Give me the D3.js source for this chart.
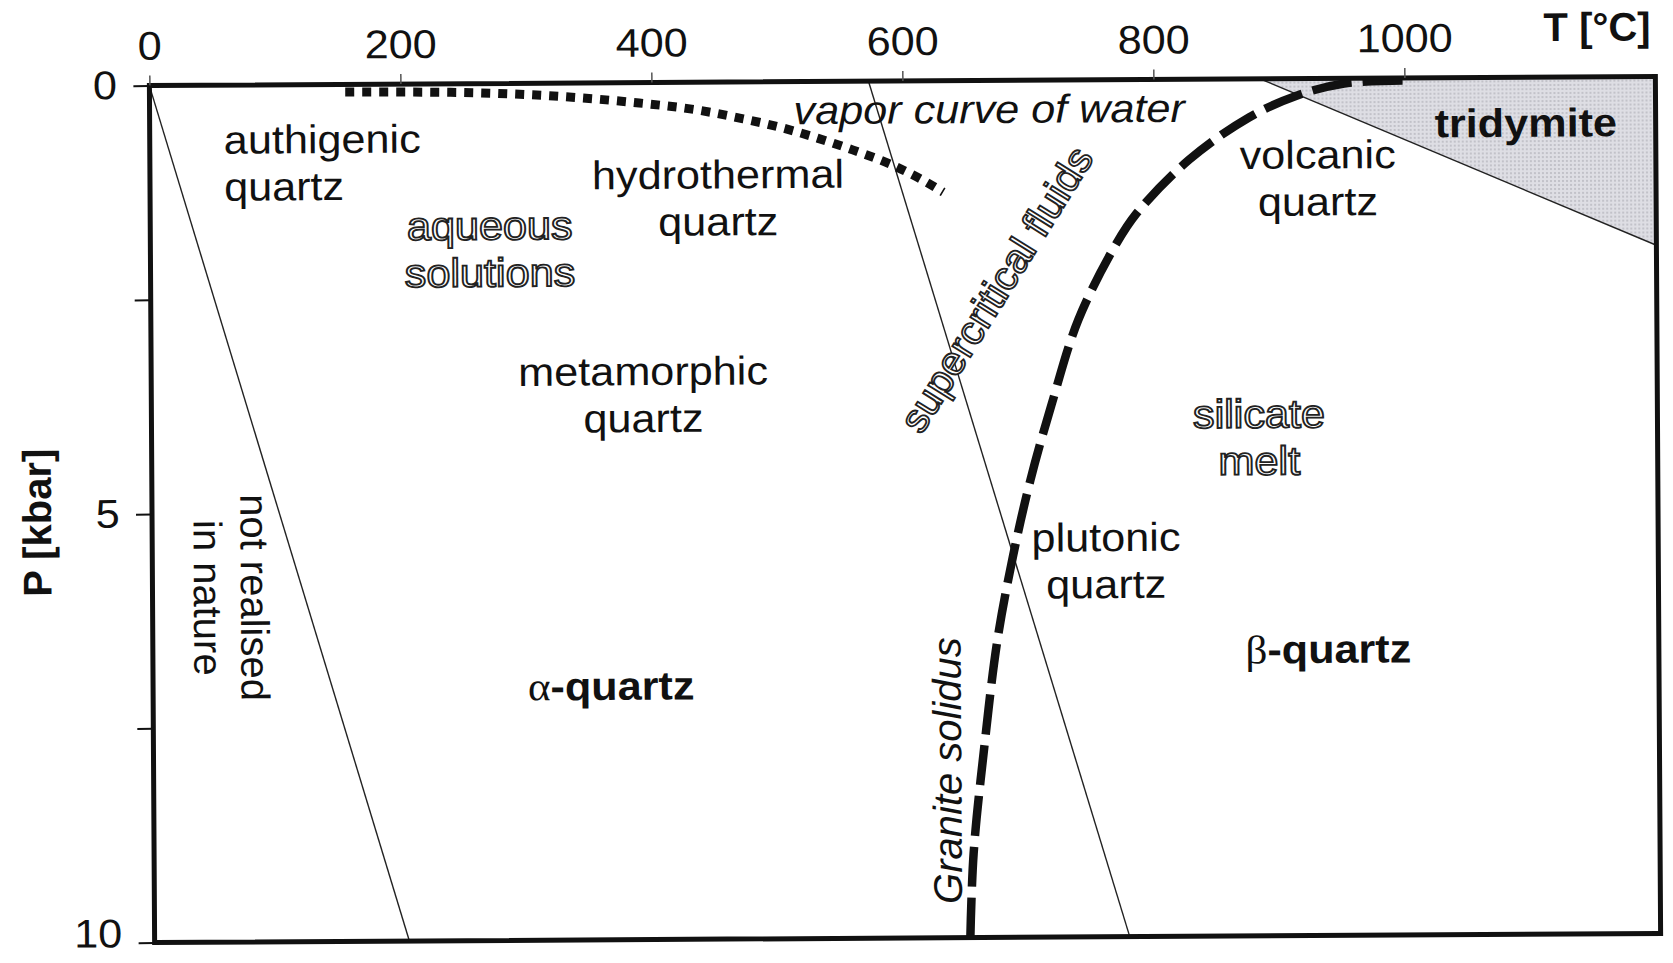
<!DOCTYPE html>
<html><head><meta charset="utf-8">
<script src="https://cdn.jsdelivr.net/npm/d3@7"></script>
<style>
html,body{margin:0;padding:0;background:#fff;}
svg{display:block;}
</style></head><body>
<svg id="chart" width="1673" height="963"></svg>
<script>
// ---------- data (T in °C, P in kbar) ----------
const xDomain = [0, 1200];
const yDomain = [0, 10];
const xTicks = [0, 200, 400, 600, 800, 1000];
const yTicks = [0, 2.5, 5, 7.5, 10];
const yTickLabels = ["0", "", "5", "", "10"];

const notRealisedLine = [[0, 0], [203, 10]];
const alphaBetaLine = [[573, 0], [777, 10]];
const tridymiteLine = [[885, 0], [1200, 1.97]];
const tridymiteArea = [[885, 0], [1200, 0], [1200, 1.97]];
const vaporCurve = [[156, 0.09], [240, 0.10], [331, 0.16], [385, 0.23], [439, 0.33], [473, 0.43],
  [502, 0.53], [532, 0.66], [560, 0.80], [590, 0.97], [616, 1.16], [632, 1.30]];
const graniteSolidus = [[650, 10], [653, 9.02], [662, 7.78], [673, 6.53], [686, 5.54], [700, 4.67],
  [717, 3.8], [739, 2.8], [769, 1.93], [786, 1.56], [828, 0.94], [876, 0.45], [914, 0.2], [952, 0.06], [1000, 0.03]];

const labelText = [
  {lines: ["authigenic", "quartz"], T: 59, P: 0.66, anchor: "start"},
  {lines: ["hydrothermal", "quartz"], T: 452.6, P: 1.10},
  {lines: ["aqueous", "solutions"], T: 270.5, P: 1.68, outline: true},
  {lines: ["metamorphic", "quartz"], T: 392, P: 3.39},
  {lines: ["vapor curve of water"], T: 669, P: 0.356, italic: true},
  {lines: ["supercritical fluids"], T: 675, P: 2.45, outline: true, rotate: -57.7},
  {lines: ["volcanic", "quartz"], T: 930.5, P: 0.91},
  {lines: ["tridymite"], T: 1096.5, P: 0.555, bold: true},
  {lines: ["silicate", "melt"], T: 882.5, P: 3.93, outline: true},
  {lines: ["plutonic", "quartz"], T: 760, P: 5.36},
  {greek: "β", rest: "-quartz", T: 936.6, P: 6.68},
  {greek: "α", rest: "-quartz", T: 365, P: 7.06},
  {lines: ["not realised", "in nature"], T: 80, P: 5.98, rotate: 90},
  {lines: ["Granite solidus"], T: 634, P: 8.05, rotate: -90, italic: true}
];

// ---------- layout ----------
const FONT = '"Liberation Sans", Arial, Helvetica, sans-serif';
const L = 152, R = 1658, TOP = 81, B = 938;
const x = d3.scaleLinear().domain(xDomain).range([L, R]);
const y = d3.scaleLinear().domain(yDomain).range([TOP, B]);

const svg = d3.select("#chart");
const defs = svg.append("defs");
const pat = defs.append("pattern").attr("id", "stip").attr("patternUnits", "userSpaceOnUse")
  .attr("width", 4).attr("height", 4);
pat.append("rect").attr("width", 4).attr("height", 4).attr("fill", "#dedee4");
pat.append("circle").attr("cx", 1).attr("cy", 1).attr("r", 0.9).attr("fill", "#b4b4bc");

const g = svg.append("g").attr("transform", `rotate(-0.35,${(L + R) / 2},${(TOP + B) / 2})`);
const line = d3.line().x(d => x(d[0])).y(d => y(d[1]));

// tridymite field
g.append("path").attr("d", line(tridymiteArea) + "Z").attr("fill", "url(#stip)");

// thin boundary lines
[notRealisedLine, alphaBetaLine, tridymiteLine].forEach(l => {
  g.append("path").attr("d", line(l)).attr("fill", "none").attr("stroke", "#222").attr("stroke-width", 1.4);
});

// vapor curve of water (dotted)
g.append("path").attr("d", d3.line().curve(d3.curveMonotoneX).x(d => x(d[0])).y(d => y(d[1]))(vaporCurve))
  .attr("fill", "none").attr("stroke", "#111").attr("stroke-width", 9).attr("stroke-dasharray", "9,8");

// granite solidus (dashed)
g.append("path").attr("d", d3.line().curve(d3.curveCatmullRom).x(d => x(d[0])).y(d => y(d[1]))(graniteSolidus))
  .attr("fill", "none").attr("stroke", "#111").attr("stroke-width", 8.5).attr("stroke-dasharray", "40,11");

// frame
g.append("rect").attr("x", L).attr("y", TOP).attr("width", R - L).attr("height", B - TOP)
  .attr("fill", "none").attr("stroke", "#111").attr("stroke-width", 5);

// axes
const xAxis = d3.axisTop(x).tickValues(xTicks).tickSize(10).tickPadding(16).tickFormat(d3.format("d"));
const gx = g.append("g").attr("transform", `translate(0,${TOP})`).call(xAxis)
  .attr("font-size", 40).attr("font-family", FONT);
gx.select(".domain").remove();
gx.selectAll(".tick line").attr("stroke", "#555").attr("stroke-width", 1.5);
gx.selectAll(".tick text").attr("fill", "#111").attr("transform", "scale(1.08,1)");

const yAxis = d3.axisLeft(y).tickValues(yTicks).tickSize(16).tickPadding(14)
  .tickFormat((d, i) => yTickLabels[i]);
const gy = g.append("g").attr("transform", `translate(${L},0)`).call(yAxis)
  .attr("font-size", 40).attr("font-family", FONT);
gy.select(".domain").remove();
gy.selectAll(".tick line").attr("stroke", "#111").attr("stroke-width", 2);
gy.selectAll(".tick text").attr("fill", "#111").attr("transform", "scale(1.08,1)")
  .attr("dy", d => d === yDomain[1] ? "0.1em" : "0.32em");

// axis titles
g.append("text").attr("x", 1600).attr("y", 45).attr("text-anchor", "middle")
  .attr("font-family", FONT).attr("font-size", 40).attr("font-weight", "bold").attr("fill", "#111")
  .text("T [°C]");
g.append("text").attr("transform", "translate(37,517.5) rotate(-90)").attr("text-anchor", "middle")
  .attr("dy", "0.35em").attr("font-family", FONT).attr("font-size", 40).attr("font-weight", "bold")
  .attr("fill", "#111").text("P [kbar]");

// region labels
labelText.forEach(d => {
  const r = d.rotate || 0;
  const sx = r === 0 ? 1.08 : (Math.abs(r) === 90 ? 1 : 1.03);
  const lg = g.append("g").attr("transform", `translate(${x(d.T)},${y(d.P)}) rotate(${r}) scale(${sx},1)`);
  const t = lg.append("text").attr("text-anchor", d.anchor || "middle")
    .attr("font-family", FONT).attr("font-size", 40)
    .attr("font-style", d.italic ? "italic" : "normal")
    .attr("font-weight", d.bold ? "bold" : "normal");
  if (d.outline) t.attr("fill", "#fff").attr("stroke", "#222").attr("stroke-width", 1.8);
  else t.attr("fill", "#111");
  if (d.greek) {
    t.attr("dy", "0.3em");
    t.append("tspan").attr("font-family", '"Liberation Serif", "Times New Roman", serif').text(d.greek);
    t.append("tspan").attr("font-weight", "bold").text(d.rest);
  } else {
    d.lines.forEach((s, i) => {
      t.append("tspan").attr("x", 0).attr("dy", i === 0 ? "0.3em" : 47).text(s);
    });
  }
});
</script>
</body></html>
